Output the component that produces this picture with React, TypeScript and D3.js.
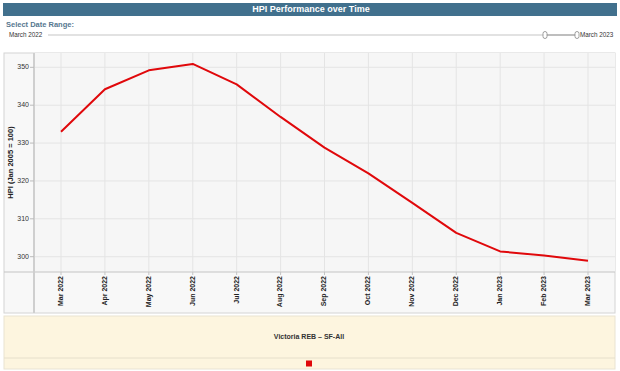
import React from "react";
import * as d3 from "d3";

// Chart data
const months = [
  "Mar 2022", "Apr 2022", "May 2022", "Jun 2022", "Jul 2022", "Aug 2022", "Sep 2022",
  "Oct 2022", "Nov 2022", "Dec 2022", "Jan 2023", "Feb 2023", "Mar 2023",
];
const hpiValues = [333.0, 344.2, 349.2, 350.9, 345.5, 336.9, 328.8, 322.0, 314.2, 306.3, 301.4, 300.3, 298.9];
const yTicks = [300, 310, 320, 330, 340, 350];
const seriesName = "Victoria REB \u2013 SF-All";
const rangeStart = "March 2022";
const rangeEnd = "March 2023";

const W = 620, H = 371;
const font = "'Liberation Sans', Arial, sans-serif";

// Layout
const box = { left: 4, right: 615, top: 53, bottom: 313 };
const plot = { left: 34, right: 615, top: 53, bottom: 272 };

const App = () => {
  const x = d3.scalePoint<string>().domain(months).range([plot.left, plot.right]).padding(0.615);
  const y = d3.scaleLinear().domain([295.96, 353.78]).range([plot.bottom, plot.top]);

  const line = d3.line<number>()
    .x((_, i) => x(months[i]) as number)
    .y((d) => y(d));

  // slider handle positions
  const trackL = 48, trackR = 577, handleL = 545;

  return (
    <div style={{ position: "absolute", left: 0, top: 0 }}>
      <svg width={W} height={H} style={{ display: "block", fontFamily: font }}>
        <rect x={0} y={0} width={W} height={H} fill="#ffffff" />

        {/* title bar */}
        <rect x={3} y={3} width={614} height={13} fill="#41708d" />
        <text x={311} y={9.8} fill="#ffffff" fontSize={9} fontWeight="bold" textAnchor="middle" dominantBaseline="middle">
          HPI Performance over Time
        </text>

        {/* date range selector */}
        <text x={6} y={25} fill="#56788f" fontSize={7.5} fontWeight="bold" dominantBaseline="middle">Select Date Range:</text>
        <text x={9} y={35} fill="#333" fontSize={6.3} dominantBaseline="middle">{rangeStart}</text>
        <line x1={trackL} x2={trackR} y1={35} y2={35} stroke="#e2e2e2" strokeWidth={2} />
        <line x1={handleL} x2={trackR} y1={35} y2={35} stroke="#9a9a9a" strokeWidth={1} />
        <rect x={handleL - 2} y={31.5} width={4} height={7} rx={2} fill="#fff" stroke="#888" strokeWidth={0.8} />
        <rect x={trackR - 2} y={31.5} width={4} height={7} rx={2} fill="#fff" stroke="#888" strokeWidth={0.8} />
        <text x={580} y={35} fill="#333" fontSize={6.3} dominantBaseline="middle">{rangeEnd}</text>

        {/* chart box */}
        <rect x={box.left} y={box.top} width={box.right - box.left} height={box.bottom - box.top} fill="#f8f8f8" stroke="#d4d4d4" />
        <rect x={plot.left} y={plot.top} width={plot.right - plot.left} height={plot.bottom - plot.top} fill="#f6f6f6" />

        {/* grid */}
        {yTicks.map((t) => (
          <line key={t} x1={plot.left} x2={plot.right} y1={y(t)} y2={y(t)} stroke="#e4e4e4" strokeWidth={1} />
        ))}
        {months.map((m) => (
          <line key={m} x1={x(m)} x2={x(m)} y1={plot.top} y2={plot.bottom} stroke="#e4e4e4" strokeWidth={1} />
        ))}

        {/* axes */}
        <line x1={box.left} x2={box.right} y1={plot.bottom} y2={plot.bottom} stroke="#c4c4c4" strokeWidth={1} />
        <line x1={plot.left} x2={plot.left} y1={plot.top} y2={box.bottom} stroke="#cfcfcf" strokeWidth={2} />

        {yTicks.map((t) => (
          <g key={t}>
            <line x1={plot.left - 4} x2={plot.left} y1={y(t)} y2={y(t)} stroke="#bbb" />
            <text x={plot.left - 5} y={y(t)} fill="#333" fontSize={7} textAnchor="end" dominantBaseline="middle">{t}</text>
          </g>
        ))}
        <text transform={`translate(11,${(plot.top + plot.bottom) / 2}) rotate(-90)`} fill="#222" fontSize={7.5} fontWeight="bold" textAnchor="middle" dominantBaseline="middle">
          HPI (Jan 2005 = 100)
        </text>

        {months.map((m) => (
          <g key={m}>
            <line x1={x(m)} x2={x(m)} y1={plot.bottom} y2={plot.bottom + 3} stroke="#c4c4c4" />
            <text transform={`translate(${x(m)},${plot.bottom + 4}) rotate(-90)`} fill="#222" fontSize={7} fontWeight="bold" textAnchor="end" dominantBaseline="middle">
              {m}
            </text>
          </g>
        ))}

        {/* series */}
        <path d={line(hpiValues) ?? ""} fill="none" stroke="#e0080b" strokeWidth={2} strokeLinejoin="round" />

        {/* legend */}
        <rect x={box.left} y={316} width={box.right - box.left} height={53} fill="#fdf5df" stroke="#e9e3d2" />
        <line x1={box.left} x2={box.right} y1={358} y2={358} stroke="#e6dfcb" />
        <text x={309} y={337} fill="#333" fontSize={7} fontWeight="bold" textAnchor="middle" dominantBaseline="middle">{seriesName}</text>
        <rect x={306} y={360.5} width={6} height={6} fill="#e0080b" />
      </svg>
    </div>
  );
};

export default App;
